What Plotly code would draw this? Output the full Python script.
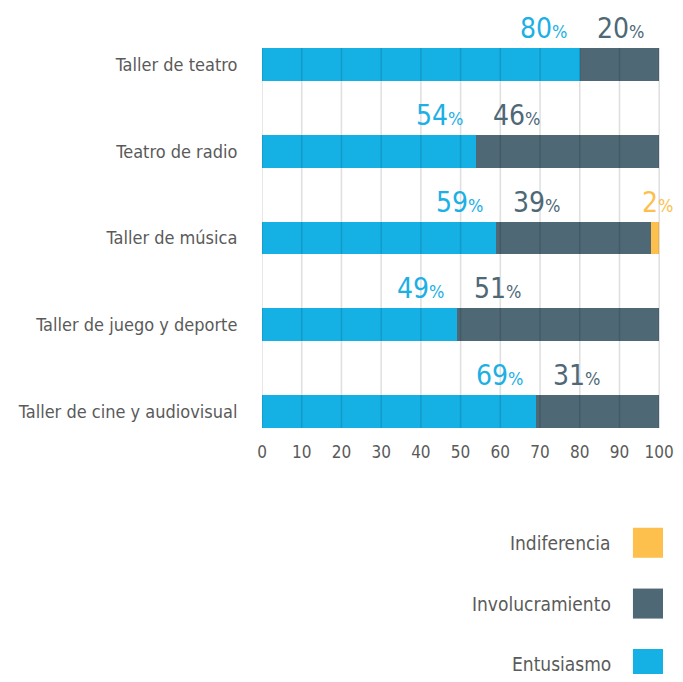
import plotly.graph_objects as go

categories = ["Taller de teatro", "Teatro de radio", "Taller de música",
              "Taller de juego y deporte", "Taller de cine y audiovisual"]
entusiasmo = [80, 54, 59, 49, 69]
involucramiento = [20, 46, 39, 51, 31]
indiferencia = [0, 0, 2, 0, 0]
x_ticks = [0, 10, 20, 30, 40, 50, 60, 70, 80, 90, 100]

series_names = ["Entusiasmo", "Involucramiento", "Indiferencia"]
colors = {"Entusiasmo": "#15b1e5", "Involucramiento": "#4e6876", "Indiferencia": "#fec04c"}
label_colors = {"Entusiasmo": "#1cb0e4", "Involucramiento": "#4e6876", "Indiferencia": "#fec04c"}

FONT = "Ubuntu Condensed, Liberation Sans Narrow, DejaVu Sans Condensed, Roboto Condensed, Roboto, sans-serif"
BAR_W = 0.38

fig = go.Figure()
values = {"Entusiasmo": entusiasmo, "Involucramiento": involucramiento, "Indiferencia": indiferencia}
for name in series_names:
    fig.add_trace(go.Bar(
        y=categories, x=values[name], orientation="h", name=name,
        marker=dict(color=colors[name], line=dict(width=0)),
        width=BAR_W, showlegend=False, hoverinfo="x+name",
    ))


def pct(v):
    return (f"<span style='font-size:28px'>{v}</span>"
            f"<span style='font-size:18px'>%</span>")


annotations = []
for i, cat in enumerate(categories):
    e, inv, ind = entusiasmo[i], involucramiento[i], indiferencia[i]
    annotations.append(dict(x=e, y=cat, xref="x", yref="y", text=pct(e),
                            xanchor="right", yanchor="middle", xshift=-11, yshift=36,
                            showarrow=False, font=dict(family=FONT, color=label_colors["Entusiasmo"])))
    annotations.append(dict(x=e, y=cat, xref="x", yref="y", text=pct(inv),
                            xanchor="left", yanchor="middle", xshift=15, yshift=36,
                            showarrow=False, font=dict(family=FONT, color=label_colors["Involucramiento"])))
    if ind > 0:
        annotations.append(dict(x=e + inv + ind, y=cat, xref="x", yref="y", text=pct(ind),
                                xanchor="center", yanchor="middle", xshift=-2, yshift=36,
                                showarrow=False, font=dict(family=FONT, color=label_colors["Indiferencia"])))

shapes = []
# grid lines drawn over the bars
for t in x_ticks:
    shapes.append(dict(type="line", xref="x", yref="paper", x0=t, x1=t, y0=0, y1=1,
                       line=dict(color="rgba(0,0,0,0.12)", width=1.6), layer="above"))

# custom legend (text left of square), reversed order
legend_order = ["Indiferencia", "Involucramiento", "Entusiasmo"]
legend_y = [-0.302, -0.462, -0.621]
for name, ly in zip(legend_order, legend_y):
    shapes.append(dict(type="rect", xref="paper", yref="paper",
                       x0=0.932, x1=1.0075, y0=ly - 0.0395, y1=ly + 0.0395,
                       fillcolor=colors[name], line=dict(width=0)))
    annotations.append(dict(x=0.882, y=ly, xref="paper", yref="paper", text=name,
                            xanchor="right", yanchor="middle", showarrow=False,
                            font=dict(family=FONT, size=19, color="#5a5a5a")))

fig.update_layout(
    barmode="stack",
    width=667, height=666,
    margin=dict(l=254, r=15, t=40, b=246, autoexpand=False),
    paper_bgcolor="white", plot_bgcolor="white",
    font=dict(family=FONT, color="#5a5a5a"),
    annotations=annotations, shapes=shapes,
    xaxis=dict(range=[0, 100.2], tickvals=x_ticks, ticktext=[str(t) for t in x_ticks],
               showgrid=False, zeroline=False, showline=False, automargin=False,
               ticks="outside", ticklen=9, tickcolor="rgba(0,0,0,0)",
               tickfont=dict(family=FONT, size=17, color="#5a5a5a"), fixedrange=True),
    yaxis=dict(range=[len(categories) - 1 + BAR_W / 2, -BAR_W / 2],
               showgrid=False, zeroline=False, showline=False, automargin=False,
               ticks="outside", ticklen=20, tickcolor="rgba(0,0,0,0)",
               tickfont=dict(family=FONT, size=18, color="#5a5a5a"), fixedrange=True),
)

fig.write_html("out.html")
